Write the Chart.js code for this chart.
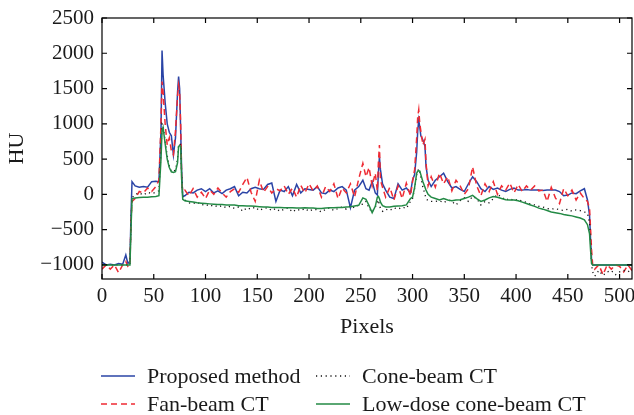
<!DOCTYPE html>
<html>
<head>
<meta charset="utf-8">
<script src="https://cdn.jsdelivr.net/npm/chart.js@4/dist/chart.umd.min.js"></script>
<style>
    body { margin: 0; background: #fff; }
    canvas { display: block; }
</style>
</head>
<body>
<canvas id="profileChart" width="634" height="415"></canvas>
<script>
// Line profile (pixel position along the profile)
const pixels = [
    0, 4, 8, 12, 16, 20, 23, 25, 27, 28, 29, 32, 36, 40, 44, 48, 52, 55, 57, 58, 59, 61, 63, 65, 67, 69, 71, 73, 74, 75, 76, 77, 78,
    80, 84, 88, 92, 96, 100, 104, 108, 112, 116, 120, 124, 128, 132, 136, 140, 144, 148, 152, 156, 160, 164, 168, 172, 176, 180, 184, 188, 192, 196, 200, 204, 208, 212, 216, 220, 224, 228, 232, 236, 240, 244, 248,
    252, 255, 258, 261, 264, 266, 267, 268, 269, 271, 274, 278, 282, 286, 290, 294, 298, 300, 302, 304, 305, 306, 307, 308, 310, 312, 313, 315, 318,
    322, 326, 330, 334, 338, 342, 346, 350, 354, 358, 362, 366, 370, 374, 378, 382, 386, 390, 394, 398, 402, 406, 410, 414, 418, 422, 426, 430, 434, 438, 442, 446, 450, 454, 458, 462, 466,
    469, 471, 472, 473, 474, 476, 480, 484, 488, 492, 496, 500, 504, 508, 512
];

const proposed = [
    -960, -1000, -990, -1000, -980, -990, -860, -980, -950, -300, 180, 120, 100, 110, 100, 180, 185, 180, 900, 2040, 1700, 1300, 1000, 880, 830, 560, 800, 1450, 1670, 1500, 900, 300, -30,
    -20, 30, 20, 60, 80, 40, 80, 20, 50, 10, 60, 80, 110, -20, 30, 20, 80, 100, 80, 70, 140, 160, -100, 60, 40, 110, -20, 140, 20, 80, 70, 60, 110, 20, 10, 60, 40, 90, 110, 60, -190, 60, 110,
    200, 80, 60, 180, 20, -10, 300, 530, 350, 150, 60, -40, -60, 150, 60, 90, 20, 200, 280, 600, 900, 1050, 950, 830, 770, 680, 400, 200, 110,
    200, 250, 300, 180, 90, 110, 70, 40, 150, 250, 180, 80, 40, 110, 70, 90, 60, 40, 70, 90, 60, 60, 70, 60, 60, 60, 55, 60, 60, 60, 40, -20, -10, 20, 10, 50, 80,
    -80, -300, -650, -950, -1000, -1000, -1000, -1000, -1000, -1000, -1000, -1000, -1000, -1000, -1000
];

const fanBeam = [
    -1060, -1000, -1060, -1000, -1110, -1000, -950, -1020, -1000, -400, -100, -60, 40, 20, 90, 40, 110, 200, 1000, 1600, 1450, 1000, 700, 800, 620, 560, 900, 1400, 1550, 1450, 1000, 200, 40,
    60, -20, 80, -40, 30, -60, 60, 0, 90, 20, -40, 40, 80, 30, 140, 240, 30, -100, 200, 30, 110, 20, 80, 50, 120, 0, 90, -40, 130, 20, 150, 50, 120, -40, 110, 40, 150, -60, 90, 20, 150, -40, 220,
    440, 250, 380, 120, 300, 50, 450, 700, 200, 100, -40, 100, -80, 120, -60, 160, -20, 180, 350, 800, 1100, 1200, 1000, 900, 700, 780, 450, 120, 250,
    100, 300, 150, 250, 50, 200, 120, 0, 80, 390, 120, -20, 150, 40, 180, 0, 120, 60, 160, 20, 140, 40, 120, 60, 120, 50, 60, -100, 100, -50, -130, 80, -20, 60, -80, 20, -60,
    -100, -200, -500, -800, -1000, -1060, -1000, -1140, -1000, -1060, -1000, -1020, -1100, -1000, -1080
];

const coneBeam = [
    -1000, -1000, -1000, -1000, -1000, -1000, -1000, -1000, -1000, -400, -50, 0, 20, -10, 30, 10, 30, 50, 600, 1000, 980, 750, 550, 400, 330, 320, 350, 500, 700, 720, 700, 250, -50,
    -80, -120, -130, -110, -150, -140, -170, -150, -180, -160, -190, -170, -200, -180, -240, -190, -210, -180, -230, -200, -190, -230, -200, -240, -210, -190, -250, -210, -230, -200, -240, -210, -220, -250, -210, -190, -230, -200, -180, -210, -160, -190, -150,
    -140, -100, -200, -250, -180, -120, -80, -150, -200, -240, -210, -230, -190, -210, -180, -200, -100, -60, 80, 280, 330, 360, 320, 250, 100, 0, -60, -90, -100,
    -100, -90, -120, -80, -100, -150, -90, -50, -100, -30, -60, -150, -100, -120, -60, 0, -40, -80, -60, -90, -70, -100, -110, -140, -150, -170, -180, -200, -210, -200, -220, -230, -210, -240, -220, -230, -250,
    -270, -400, -700, -1000, -1100, -1160, -1080, -1150, -1100, -1080, -1140, -1100, -1080, -1100, -1060
];

const lowDose = [
    -1000, -1000, -1000, -1000, -1000, -1000, -1000, -1000, -1000, -500, -60, -50, -45, -40, -40, -35, -30, -20, 500, 900, 950, 720, 500, 380, 320, 310, 320, 450, 680, 690, 680, 200, -70,
    -90, -100, -110, -120, -125, -130, -135, -140, -145, -145, -150, -150, -150, -160, -160, -165, -165, -170, -175, -180, -180, -185, -185, -185, -190, -190, -190, -195, -195, -190, -195, -195, -200, -200, -195, -190, -190, -185, -185, -180, -175, -165, -155,
    -50, -70, -160, -260, -170, -40, -30, -60, -110, -160, -180, -180, -170, -165, -160, -150, -60, -40, 100, 300, 330, 335, 330, 280, 180, 100, 60, 0, -40,
    -60, -80, -60, -80, -90, -80, -75, -60, -40, -15, -60, -100, -80, -50, -30, -40, -60, -75, -80, -80, -90, -110, -130, -150, -170, -195, -210, -230, -250, -260, -270, -285, -295, -305, -320, -335, -360,
    -430, -560, -800, -980, -1000, -1000, -1000, -1000, -1000, -1000, -1000, -1000, -1000, -1000, -1000
];

const xTicks = [0, 50, 100, 150, 200, 250, 300, 350, 400, 450, 500];
const yTicks = [-1000, -500, 0, 500, 1000, 1500, 2000, 2500];

const seriesNames = ["Proposed method", "Fan-beam CT", "Cone-beam CT", "Low-dose cone-beam CT"];
const seriesColors = ["#2a44a6", "#ee2a33", "#111111", "#238a45"];
const seriesDash = [[], [6, 4], [1.2, 3.6], []];

const FONT = "'Liberation Serif', 'DejaVu Serif', serif";

function toPoints(values) {
    return pixels.map((x, i) => ({ x: x, y: values[i] }));
}

function formatHU(value) {
    return value < 0 ? "\u2212" + Math.abs(value) : String(value);
}

// box around the plot with ticks pointing inwards on every side
const frameTicks = {
    id: "frameTicks",
    afterDatasetsDraw(chart) {
        const { ctx, chartArea: a, scales } = chart;
        const len = 5;
        ctx.save();
        ctx.strokeStyle = "#000";
        ctx.lineWidth = 1.2;
        ctx.strokeRect(a.left, a.top, a.right - a.left, a.bottom - a.top);
        ctx.beginPath();
        xTicks.forEach(v => {
            const px = scales.x.getPixelForValue(v);
            ctx.moveTo(px, a.bottom);
            ctx.lineTo(px, a.bottom - len);
            ctx.moveTo(px, a.top);
            ctx.lineTo(px, a.top + len);
        });
        yTicks.forEach(v => {
            const py = scales.y.getPixelForValue(v);
            ctx.moveTo(a.left, py);
            ctx.lineTo(a.left + len, py);
            ctx.moveTo(a.right, py);
            ctx.lineTo(a.right - len, py);
        });
        ctx.stroke();
        ctx.restore();
    }
};

// two-column legend under the axis title
const gridLegend = {
    id: "gridLegend",
    afterDraw(chart) {
        const ctx = chart.ctx;
        const cols = [101, 316];
        const rows = [376, 404];
        const order = [0, 2, 1, 3]; // row-major: proposed, cone / fan, low-dose
        ctx.save();
        ctx.font = "22px " + FONT;
        ctx.textBaseline = "middle";
        ctx.fillStyle = "#1a1a1a";
        order.forEach((idx, k) => {
            const x = cols[k % 2];
            const y = rows[Math.floor(k / 2)];
            ctx.beginPath();
            ctx.strokeStyle = seriesColors[idx];
            ctx.lineWidth = idx === 2 ? 1.3 : 1.5;
            ctx.setLineDash(seriesDash[idx]);
            ctx.moveTo(x, y);
            ctx.lineTo(x + 34, y);
            ctx.stroke();
            ctx.setLineDash([]);
            ctx.fillText(seriesNames[idx], x + 46, y + 1);
        });
        ctx.restore();
    }
};

const datasets = [3, 2, 1, 0].map(idx => ({
    label: seriesNames[idx],
    data: toPoints([proposed, fanBeam, coneBeam, lowDose][idx]),
    borderColor: seriesColors[idx],
    borderDash: seriesDash[idx],
    borderWidth: idx === 2 ? 1.3 : 1.5,
    pointRadius: 0,
    tension: 0,
    fill: false
}));

new Chart(document.getElementById("profileChart"), {
    type: "line",
    data: { datasets: datasets },
    options: {
        responsive: false,
        animation: false,
        layout: { padding: { top: 18, right: 2, left: 0, bottom: 0 } },
        plugins: {
            legend: { display: false },
            tooltip: { enabled: false }
        },
        scales: {
            x: {
                type: "linear",
                min: 0,
                max: 512,
                grid: { display: false, drawTicks: false },
                border: { display: false },
                afterBuildTicks: scale => { scale.ticks = xTicks.map(v => ({ value: v })); },
                afterFit: scale => { scale.height = 136; scale.paddingLeft = 0; scale.paddingRight = 0; },
                ticks: {
                    padding: 5,
                    maxRotation: 0,
                    color: "#1a1a1a",
                    font: { family: FONT, size: 21 }
                },
                title: {
                    display: true,
                    text: "Pixels",
                    color: "#1a1a1a",
                    font: { family: FONT, size: 22 },
                    padding: { top: 0, bottom: 75 }
                }
            },
            y: {
                type: "linear",
                min: -1200,
                max: 2500,
                grid: { display: false, drawTicks: false },
                border: { display: false },
                afterBuildTicks: scale => { scale.ticks = yTicks.map(v => ({ value: v })); },
                afterFit: scale => { scale.width = 102; scale.paddingTop = 0; scale.paddingBottom = 0; },
                ticks: {
                    padding: 8,
                    color: "#1a1a1a",
                    font: { family: FONT, size: 21 },
                    callback: value => formatHU(value)
                },
                title: {
                    display: true,
                    text: "HU",
                    color: "#1a1a1a",
                    font: { family: FONT, size: 22 },
                    padding: { top: 4, bottom: 0 }
                }
            }
        }
    },
    plugins: [frameTicks, gridLegend]
});
</script>
</body>
</html>
